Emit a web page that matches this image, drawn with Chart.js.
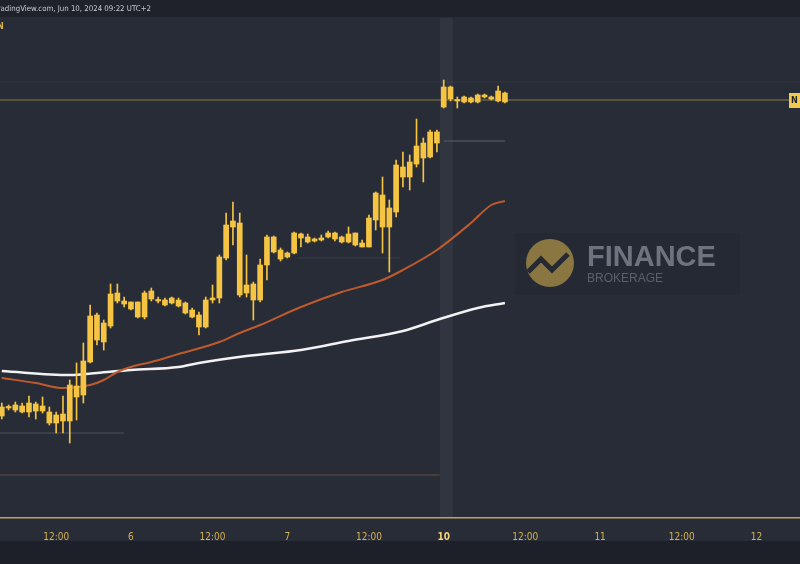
<!DOCTYPE html>
<html lang="en">
<head>
    <meta charset="UTF-8">
    <title>Hourly candles, Jun 5 - Jun 10 2024</title>
    <style>
        body {
            margin: 0;
            background-color: #282c37;
            overflow: hidden;
        }

        #chart {
            display: block;
        }
    </style>
</head>
<body>
    <canvas id="chart" width="800" height="564"></canvas>

    <script src="https://cdn.jsdelivr.net/npm/chart.js"></script>
    <script>
        // Hourly candles, x = trading hour index (23 sessions per day, day 5 00:00 = 0)
        // y values are chart units (no price axis visible)
        const firstCandle = 4;
        const opens = [101, 110, 107, 111, 105, 113, 106, 105, 102, 96, 96, 131, 122, 155, 202, 175, 191, 224, 216, 215,
            215, 200, 226, 217, 212, 219, 217, 214, 207, 202, 190, 217, 219, 259, 290, 294, 224, 233, 217, 252,
            280, 267, 260, 264, 283, 280, 276, 277, 280, 284, 280, 275, 284, 274, 270, 297, 322, 290, 305, 350,
            340, 353, 359, 360, 374, 410, 430, 417, 415, 419, 415, 422, 418, 416, 424];
        const highs = [114, 112, 115, 114, 121, 115, 120, 110, 105, 121, 137, 154, 174, 212, 204, 197, 233, 233, 220, 215,
            215, 226, 229, 220, 219, 220, 219, 215, 209, 205, 220, 232, 262, 304, 315, 304, 262, 235, 258, 282,
            281, 269, 265, 285, 284, 283, 279, 282, 286, 285, 281, 290, 284, 277, 302, 325, 340, 317, 357, 365,
            362, 398, 379, 387, 387, 437, 431, 420, 421, 420, 423, 423, 421, 431, 425];
        const lows = [98, 107, 105, 104, 100, 98, 104, 92, 84, 84, 74, 97, 114, 154, 172, 167, 189, 214, 210, 207,
            199, 198, 216, 214, 211, 213, 210, 203, 199, 182, 189, 214, 214, 257, 272, 220, 220, 197, 215, 237,
            264, 256, 259, 263, 270, 274, 275, 276, 279, 276, 274, 274, 271, 270, 270, 287, 264, 245, 300, 330,
            327, 350, 335, 359, 365, 409, 416, 409, 414, 414, 414, 419, 417, 415, 414];
        const closes = [110, 109, 112, 105, 114, 106, 111, 94, 94, 103, 132, 120, 156, 201, 177, 194, 223, 216, 213, 208,
            200, 224, 218, 216, 217, 214, 211, 204, 200, 190, 217, 219, 260, 292, 296, 222, 232, 217, 252, 280,
            265, 258, 264, 284, 279, 275, 278, 279, 284, 278, 275, 283, 272, 270, 299, 324, 290, 309, 352, 340,
            355, 371, 374, 385, 385, 430, 418, 416, 420, 415, 422, 420, 420, 426, 415];

        // moving averages, sampled along the curves
        const fastMaX = [4, 9, 13, 17, 19, 21, 23, 26, 30, 36, 39, 42, 48, 54, 60, 63, 68, 73, 76, 78];
        const fastMa = [139, 134, 129, 132, 137, 145, 150, 155, 163, 175, 184, 192, 210, 225, 237, 247, 267, 294, 312, 316];
        const slowMaX = [4, 14, 18, 23, 30, 33, 40, 48, 55, 63, 68, 74, 78];
        const slowMa = [146, 142, 144, 147, 150, 154, 161, 167, 176, 186, 197, 209, 214];

        // horizontal levels drawn on the chart
        const levelValues = [435, 417, 376, 259, 84, 42];
        const levelFrom = [3.74, 3.74, 69, 47.4, 3.74, 3.74];
        const levelTo = [121.4, 119.9, 78, 62.5, 22, 68.4];

        // x axis ticks
        const tickHours = [12, 23, 35, 46, 58, 69, 81, 92, 104, 115];
        const tickLabels = ["12:00", "6", "12:00", "7", "12:00", "10", "12:00", "11", "12:00", "12"];

        const candleColor = "#f5c443";
        const levelColors = ["rgba(255,255,255,0.06)", "#857a4c", "#5c6170", "rgba(255,255,255,0.08)", "#4b505d", "#6a4f42"];
        const axisFont = "'DejaVu Sans Condensed', 'DejaVu Sans', sans-serif";

        const wickData = highs.map((h, i) => ({ x: firstCandle + i, y: [lows[i], h] }));
        const bodyData = opens.map((o, i) => ({ x: firstCandle + i, y: [Math.min(o, closes[i]), Math.max(o, closes[i])] }));

        const levelSets = levelValues.map((v, i) => ({
            type: "line",
            data: [{ x: levelFrom[i], y: v }, { x: levelTo[i], y: v }],
            borderColor: levelColors[i],
            borderWidth: 1,
            pointRadius: 0,
            order: 5,
        }));

        // background, header, session band, watermark, axis line
        const decor = {
            id: "decor",
            beforeDraw(chart) {
                const ctx = chart.ctx;
                ctx.save();
                ctx.fillStyle = "#282c37";
                ctx.fillRect(0, 0, 800, 564);
                ctx.fillStyle = "#1f222b";
                ctx.fillRect(0, 0, 800, 17);
                ctx.fillStyle = "#1d2028";
                ctx.fillRect(0, 541, 800, 23);
                ctx.font = "7.8px " + axisFont;
                ctx.fillStyle = "#c9cbd1";
                ctx.textAlign = "right";
                ctx.textBaseline = "middle";
                ctx.fillText("Published on TradingView.com, Jun 10, 2024 09:22 UTC+2", 151, 9);
                ctx.textAlign = "left";
                ctx.fillStyle = "#d4b24c";
                ctx.font = "bold 9px " + axisFont;
                ctx.fillText("N", -3, 27);
                ctx.restore();
            },
            beforeDatasetsDraw(chart) {
                const ctx = chart.ctx;
                const x = chart.scales.x;
                const area = chart.chartArea;
                ctx.save();
                const b0 = x.getPixelForValue(68.45);
                const b1 = x.getPixelForValue(70.35);
                ctx.fillStyle = "rgba(255,255,255,0.045)";
                ctx.fillRect(b0, area.top, b1 - b0, area.bottom - area.top);

                // watermark
                ctx.fillStyle = "#252934";
                ctx.fillRect(515, 233, 225, 62);
                ctx.fillStyle = "#8a7641";
                ctx.beginPath();
                ctx.arc(550, 263, 24, 0, Math.PI * 2);
                ctx.fill();
                ctx.strokeStyle = "#252934";
                ctx.lineWidth = 5;
                ctx.lineJoin = "miter";
                ctx.beginPath();
                ctx.moveTo(528, 272);
                ctx.lineTo(541, 259);
                ctx.lineTo(552, 270);
                ctx.lineTo(568, 254);
                ctx.stroke();
                ctx.fillStyle = "#6e7380";
                ctx.font = "bold 29px 'Liberation Sans', Arial, sans-serif";
                ctx.textBaseline = "alphabetic";
                ctx.fillText("FINANCE", 587, 266);
                ctx.fillStyle = "#5b606c";
                ctx.font = "12px 'Liberation Sans', Arial, sans-serif";
                ctx.fillText("BROKERAGE", 587, 282);
                ctx.restore();
            },
            afterDraw(chart) {
                const ctx = chart.ctx;
                const area = chart.chartArea;
                const y = chart.scales.y.getPixelForValue(levelValues[1]);
                ctx.save();
                ctx.fillStyle = "#bda45a";
                ctx.fillRect(0, area.bottom, 800, 1.5);
                ctx.fillStyle = "#f2c94c";
                ctx.fillRect(789, y - 7, 14, 15);
                ctx.fillStyle = "#1e222d";
                ctx.font = "bold 9px " + axisFont;
                ctx.textBaseline = "middle";
                ctx.fillText("N", 791, y + 1);
                ctx.restore();
            },
        };

        new Chart(document.getElementById("chart"), {
            type: "bar",
            data: {
                datasets: [
                    {
                        label: "Body",
                        data: bodyData,
                        backgroundColor: candleColor,
                        barThickness: 5,
                        minBarLength: 1.5,
                        grouped: false,
                        order: 1,
                    },
                    {
                        label: "Wick",
                        data: wickData,
                        backgroundColor: candleColor,
                        barThickness: 1,
                        grouped: false,
                        order: 2,
                    },
                    {
                        type: "line",
                        label: "MA fast",
                        data: fastMaX.map((x, i) => ({ x: x, y: fastMa[i] })),
                        borderColor: "#bf5a2d",
                        borderWidth: 2,
                        pointRadius: 0,
                        cubicInterpolationMode: "monotone",
                        order: 3,
                    },
                    {
                        type: "line",
                        label: "MA slow",
                        data: slowMaX.map((x, i) => ({ x: x, y: slowMa[i] })),
                        borderColor: "#f2f2f2",
                        borderWidth: 2.5,
                        pointRadius: 0,
                        cubicInterpolationMode: "monotone",
                        order: 4,
                    },
                    ...levelSets,
                ],
            },
            options: {
                responsive: false,
                animation: false,
                devicePixelRatio: 1,
                layout: { padding: { top: 18, bottom: 23, left: 0, right: 0 } },
                plugins: {
                    legend: { display: false },
                    tooltip: { enabled: false },
                },
                scales: {
                    x: {
                        type: "linear",
                        offset: false,
                        min: 3.74,
                        max: 121.4,
                        grid: { display: false },
                        border: { display: false },
                        afterBuildTicks: (axis) => {
                            axis.ticks = tickHours.map((v) => ({ value: v }));
                        },
                        afterFit: (axis) => {
                            axis.height = 24;
                        },
                        ticks: {
                            autoSkip: false,
                            maxRotation: 0,
                            padding: 6,
                            color: (c) => (c.tick && c.tick.value === 69 ? "#f0d27a" : "#d6b24e"),
                            font: (c) => ({
                                family: axisFont,
                                size: 10,
                                weight: c.tick && c.tick.value === 69 ? "bold" : "normal",
                            }),
                            callback: (value) => tickLabels[tickHours.indexOf(value)],
                        },
                    },
                    y: {
                        display: false,
                        min: 0,
                        max: 499,
                    },
                },
            },
            plugins: [decor],
        });
    </script>
</body>
</html>
